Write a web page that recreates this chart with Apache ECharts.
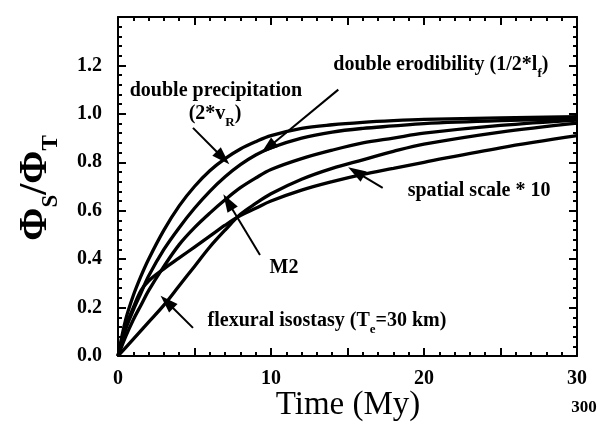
<!DOCTYPE html>
<html>
<head>
<meta charset="utf-8">
<script src="https://cdn.jsdelivr.net/npm/echarts@6/dist/echarts.min.js"></script>
<style>
  html, body { margin: 0; padding: 0; background: #fff; }
  #chart { width: 606px; height: 425px; }
</style>
</head>
<body>
<div id="chart"></div>
<script>
// time axis (My) shared by every curve
const T = [0, 0.5, 1, 1.5, 2, 3, 4, 5, 6, 7, 8, 9, 10, 12, 14, 16, 18, 20, 25, 30];

// Phi_S / Phi_T
const dblPrecip  = [0, 0.15, 0.25, 0.33, 0.40, 0.52, 0.62, 0.70, 0.765, 0.815, 0.855, 0.885, 0.91, 0.94, 0.955, 0.965, 0.972, 0.977, 0.983, 0.988];
const dblErod    = [0, 0.11, 0.19, 0.26, 0.33, 0.44, 0.53, 0.61, 0.68, 0.74, 0.79, 0.83, 0.86, 0.90, 0.925, 0.94, 0.95, 0.96, 0.972, 0.98];
const m2         = [0, 0.08, 0.15, 0.21, 0.27, 0.37, 0.46, 0.53, 0.59, 0.645, 0.695, 0.735, 0.77, 0.815, 0.85, 0.88, 0.90, 0.92, 0.952, 0.974];
const flexural   = [0, 0.035, 0.07, 0.105, 0.14, 0.21, 0.29, 0.37, 0.45, 0.52, 0.585, 0.63, 0.67, 0.73, 0.775, 0.81, 0.845, 0.875, 0.925, 0.962];
const spatial10  = [0, 0.12, 0.20, 0.27, 0.31, 0.36, 0.405, 0.45, 0.495, 0.54, 0.58, 0.61, 0.64, 0.685, 0.72, 0.75, 0.775, 0.80, 0.86, 0.91];

const xLabels = [0, 10, 20, 30];
const yLabels = ['0.0', '0.2', '0.4', '0.6', '0.8', '1.0', '1.2'];

// annotations, in data coordinates (time, ratio)
const noteTexts = [
  '{a|double precipitation}',
  '{a|(2*v}{s|R}{a|)}',
  '{a|double erodibility (1/2*l}{s|f}{a|)}',
  '{a|spatial scale * 10}',
  '{a|M2}',
  '{a|flexural isostasy (T}{s|e}{a|=30 km)}'
];
const noteAt = [[6.4, 1.087], [6.34, 0.99], [21.1, 1.194], [23.6, 0.674], [10.85, 0.355], [13.66, 0.136]];
const arrows = [
  [[4.9, 0.942], [6.86, 0.818]],
  [[14.4, 1.10], [9.8, 0.86]],
  [[17.3, 0.694], [15.55, 0.76]],
  [[9.28, 0.417], [7.19, 0.636]],
  [[4.9, 0.116], [3.2, 0.223]]
];

const SERIF = '"Liberation Serif", "DejaVu Serif", serif';
const HEAD = 'path://M5,0L10,16L0,16Z';
const chart = echarts.init(document.getElementById('chart'));

const pair = arr => T.map((t, i) => [t, arr[i]]);
const curve = (name, arr) => ({
  name, type: 'line', data: pair(arr),
  smooth: 0.35, showSymbol: false, silent: true,
  lineStyle: { color: '#000', width: 3.3 }
});

const tickCommon = {
  axisLine: { show: true, onZero: false, lineStyle: { color: '#000', width: 2 } },
  axisTick: { show: true, inside: true, length: 8, lineStyle: { color: '#000', width: 2 } },
  minorTick: { show: true, splitNumber: 5, length: 4, lineStyle: { color: '#000', width: 2 } },
  splitLine: { show: false },
  minorSplitLine: { show: false }
};
const labelFont = { fontFamily: SERIF, fontWeight: 'bold', fontSize: 20, color: '#000' };

const series = [
  curve('double precipitation', dblPrecip),
  curve('double erodibility', dblErod),
  curve('M2', m2),
  curve('flexural isostasy', flexural),
  curve('spatial scale * 10', spatial10)
];
series[0].markLine = {
  silent: true, animation: false,
  label: { show: false },
  lineStyle: { color: '#000', width: 2, type: 'solid' },
  emphasis: { disabled: true },
  data: arrows.map(a => [
    { coord: a[0], symbol: 'none', symbolSize: 1 },
    { coord: a[1], symbol: HEAD, symbolSize: [12, 18] }
  ])
};

chart.setOption({
  animation: false,
  backgroundColor: '#fff',
  grid: { left: 118, right: 29, top: 17, bottom: 69 },
  xAxis: [
    Object.assign({
      type: 'value', min: 0, max: 30, interval: 5, position: 'bottom',
      axisLabel: Object.assign({ margin: 13, formatter: v => xLabels.includes(v) ? String(v) : '' }, labelFont)
    }, tickCommon),
    Object.assign({
      type: 'value', min: 0, max: 30, interval: 5, position: 'top',
      axisLabel: { show: false }
    }, tickCommon)
  ],
  yAxis: [
    Object.assign({
      type: 'value', min: 0, max: 1.4, interval: 0.2, position: 'left',
      axisLabel: Object.assign({ margin: 16, formatter: v => {
        const s = v.toFixed(1);
        return yLabels.includes(s) ? s : '';
      } }, labelFont)
    }, tickCommon),
    Object.assign({
      type: 'value', min: 0, max: 1.4, interval: 0.2, position: 'right',
      axisLabel: { show: false }
    }, tickCommon)
  ],
  series
});

const main = { fontFamily: SERIF, fontWeight: 'bold', fontSize: 20, lineHeight: 24, verticalAlign: 'top', fill: '#000' };
const sub = { fontFamily: SERIF, fontWeight: 'bold', fontSize: 13, lineHeight: 13, padding: [12, 0, 0, 0], verticalAlign: 'top', fill: '#000' };

const graphics = noteTexts.map((txt, i) => {
  const p = chart.convertToPixel({ gridIndex: 0 }, noteAt[i]);
  return {
    type: 'text', x: p[0], y: p[1], silent: true,
    style: { text: txt, rich: { a: main, s: sub }, align: 'center', verticalAlign: 'middle' }
  };
});

// axis titles and the stray "300" under the last tick
graphics.push({
  type: 'text', x: 38, y: 188, rotation: Math.PI / 2, silent: true,
  style: {
    text: '{p|Φ}{q|S}{p|/Φ}{q|T}', align: 'center', verticalAlign: 'middle',
    rich: {
      p: { fontFamily: SERIF, fontWeight: 'bold', fontSize: 40, lineHeight: 44, verticalAlign: 'top', fill: '#000' },
      q: { fontFamily: SERIF, fontWeight: 'bold', fontSize: 23, lineHeight: 23, padding: [24, 0, 0, 0], verticalAlign: 'top', fill: '#000' }
    }
  }
});
graphics.push({
  type: 'text', x: 348, y: 405, silent: true,
  style: { text: 'Time (My)', fontFamily: SERIF, fontSize: 33, fill: '#000', align: 'center', verticalAlign: 'middle' }
});
graphics.push({
  type: 'text', x: 584, y: 408, silent: true,
  style: { text: '300', fontFamily: SERIF, fontWeight: 'bold', fontSize: 17, fill: '#000', align: 'center', verticalAlign: 'middle' }
});

chart.setOption({ graphic: graphics });
</script>
</body>
</html>
